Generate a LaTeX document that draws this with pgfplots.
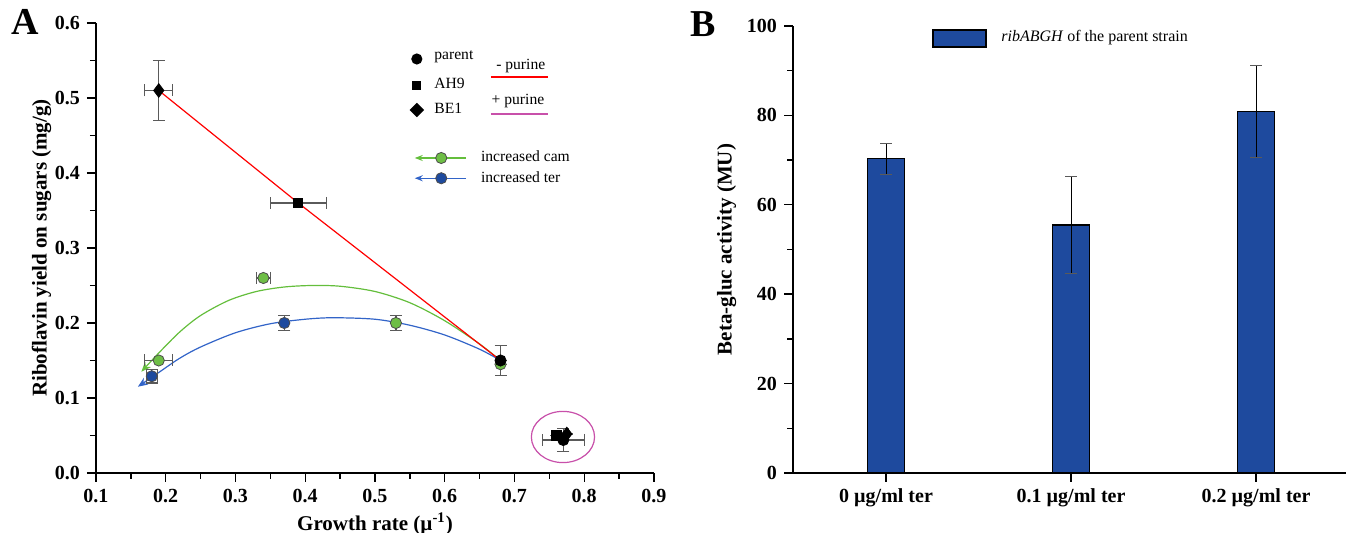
\documentclass[border=0pt]{standalone}
\usepackage{fontspec}
\setmainfont{Liberation Serif}
\usepackage{pgfplots}
\pgfplotsset{compat=1.18}
\usetikzlibrary{arrows.meta,shapes.geometric}

\definecolor{barblue}{RGB}{30,74,158}
\definecolor{greenm}{RGB}{110,190,70}
\definecolor{greenl}{RGB}{100,190,60}
\definecolor{bluel}{RGB}{50,100,200}
\definecolor{purmag}{RGB}{200,80,170}
\definecolor{errgray}{RGB}{90,90,90}

\pgfplotsset{
  panel/.style={
    scale only axis, clip=false,
    axis x line*=bottom, axis y line*=left,
    axis line style={line width=0.9pt},
    tick align=outside, tick style={line width=0.7pt, black},
    major tick length=4.5pt, minor tick length=3pt,
    ticklabel style={font=\fontsize{10}{11}\selectfont\bfseries},
    label style={font=\fontsize{10.5}{12}\selectfont\bfseries},
    /pgf/number format/assume math mode=true,
  },
  ebar/.style={error bars/.cd, x dir=both, x explicit, y dir=both, y explicit,
    error bar style={errgray, line width=0.6pt},
    error mark options={rotate=90, mark size=3pt, errgray, line width=0.6pt}},
}

\begin{document}
\begin{tikzpicture}
\path[use as bounding box] (-48pt,-30pt) rectangle (625pt,236.5pt);

% panel A
\begin{axis}[panel, at={(0,0)}, anchor=south west,
    width=279pt, height=225pt,
    xmin=0.1, xmax=0.9, ymin=0, ymax=0.6,
    xtick={0.1,0.2,0.3,0.4,0.5,0.6,0.7,0.8,0.9},
    ytick={0,0.1,0.2,0.3,0.4,0.5,0.6},
    minor x tick num=1, minor y tick num=1,
    yticklabel style={/pgf/number format/.cd, fixed, fixed zerofill, precision=1},
    xticklabel style={/pgf/number format/.cd, fixed, fixed zerofill, precision=1},
    xlabel={Growth rate (µ\textsuperscript{-1})},
    ylabel={Riboflavin yield on sugars (mg/g)},
    xlabel style={yshift=2pt},
    ylabel style={yshift=-5pt},
]
% fitted trends
\addplot[greenl, line width=0.6pt, smooth, -{Stealth[length=5pt,width=4pt]}] coordinates {
  (0.68,0.150) (0.65,0.172) (0.60,0.203) (0.55,0.227) (0.50,0.242) (0.45,0.249)
  (0.41,0.250) (0.37,0.248) (0.33,0.242) (0.29,0.230) (0.25,0.210) (0.22,0.188)
  (0.19,0.160) (0.165,0.135)
};
\addplot[bluel, line width=0.6pt, smooth, -{Stealth[length=5pt,width=4pt]}] coordinates {
  (0.68,0.150) (0.65,0.165) (0.60,0.184) (0.55,0.197) (0.50,0.205) (0.44,0.207)
  (0.40,0.205) (0.35,0.199) (0.30,0.187) (0.25,0.168) (0.22,0.153) (0.19,0.134)
  (0.16,0.115)
};
\addplot[red, line width=0.6pt] coordinates {(0.19,0.51) (0.39,0.36) (0.68,0.15)};

% increased cam / ter
\addplot[only marks, mark=*, mark size=2.8pt, mark options={fill=greenm, draw=black!70, line width=0.4pt}, ebar]
  coordinates {(0.19,0.15) +- (0.02,0) (0.34,0.26) +- (0.01,0) (0.53,0.20) +- (0,0.01) (0.68,0.145) +- (0,0)};
\addplot[only marks, mark=*, mark size=2.8pt, mark options={fill=barblue, draw=black!70, line width=0.4pt}, ebar]
  coordinates {(0.18,0.129) +- (0.008,0.009) (0.37,0.20) +- (0,0.01)};

% strains
\addplot[only marks, mark=square*, mark size=2.3pt, black, ebar]
  coordinates {(0.39,0.36) +- (0.04,0) (0.76,0.050) +- (0,0)};
\addplot[only marks, mark=diamond*, mark size=3.4pt, black, ebar]
  coordinates {(0.19,0.51) +- (0.02,0.04) (0.775,0.052) +- (0,0)};
\addplot[only marks, mark=*, mark size=2.8pt, black, ebar]
  coordinates {(0.68,0.15) +- (0,0.02) (0.77,0.044) +- (0.03,0.015)};

\draw[purmag, line width=0.6pt] (axis cs:0.7695,0.048) ellipse [x radius=15.8pt, y radius=12.8pt];

% legend
\begin{scope}[font=\fontsize{7.8}{9}\selectfont]
\node[circle, fill=black, inner sep=0pt, minimum size=5.6pt] at (axis cs:0.56,0.552) {};
\node[anchor=west] at (axis cs:0.575,0.555) {parent};
\node[rectangle, fill=black, inner sep=0pt, minimum size=4.6pt] at (axis cs:0.56,0.517) {};
\node[anchor=west] at (axis cs:0.575,0.519) {AH9};
\node[diamond, fill=black, inner sep=0pt, minimum size=7.4pt] at (axis cs:0.56,0.484) {};
\node[anchor=west] at (axis cs:0.575,0.486) {BE1};
\node at (axis cs:0.709,0.543) {- purine};
\draw[red, line width=0.8pt] (axis cs:0.666,0.528) -- (axis cs:0.748,0.528);
\node at (axis cs:0.705,0.496) {+ purine};
\draw[purmag, line width=0.8pt] (axis cs:0.666,0.479) -- (axis cs:0.748,0.479);
\draw[greenl, line width=0.6pt, -{Stealth[length=4pt,width=3pt]}] (axis cs:0.630,0.42) -- (axis cs:0.557,0.42);
\node[circle, fill=greenm, draw=black!70, line width=0.4pt, inner sep=0pt, minimum size=5.6pt] at (axis cs:0.595,0.42) {};
\node[anchor=west] at (axis cs:0.642,0.422) {increased cam};
\draw[bluel, line width=0.6pt, -{Stealth[length=4pt,width=3pt]}] (axis cs:0.630,0.393) -- (axis cs:0.557,0.393);
\node[circle, fill=barblue, draw=black!70, line width=0.4pt, inner sep=0pt, minimum size=5.6pt] at (axis cs:0.595,0.393) {};
\node[anchor=west] at (axis cs:0.642,0.395) {increased ter};
\end{scope}
\end{axis}

% panel B
\begin{axis}[panel, at={(348.5pt,0)}, anchor=south west,
    width=276.5pt, height=223.5pt,
    xmin=-0.503, xmax=2.486, ymin=0, ymax=100,
    ytick={0,20,40,60,80,100}, minor y tick num=1,
    xtick={0,1,2},
    xticklabels={0 µg/ml ter, 0.1 µg/ml ter, 0.2 µg/ml ter},
    ylabel={Beta-gluc activity (MU)},
    ylabel style={yshift=-1.5pt},
]
\addplot[ybar, bar width=18.5pt, fill=barblue, draw=black, line width=0.6pt,
    error bars/.cd, y dir=both, y explicit,
    error bar style={black, line width=0.5pt},
    error mark options={rotate=90, mark size=3pt, errgray, line width=0.6pt}]
  coordinates {(0,70.3) +- (0,3.5) (1,55.5) +- (0,10.8) (2,80.9) +- (0,10.3)};
\draw[fill=barblue, draw=black, line width=0.6pt] (axis cs:0.254,95.3) rectangle (axis cs:0.540,99.1);
\node[anchor=west, font=\fontsize{8}{9}\selectfont] at (axis cs:0.585,97.3) {\textit{ribABGH} of the parent strain};
\end{axis}

\node[font=\fontsize{19}{19}\selectfont\bfseries] at (-35.5pt,225.5pt) {A};
\node[font=\fontsize{19}{19}\selectfont\bfseries] at (303.5pt,224.5pt) {B};
\end{tikzpicture}
\end{document}
